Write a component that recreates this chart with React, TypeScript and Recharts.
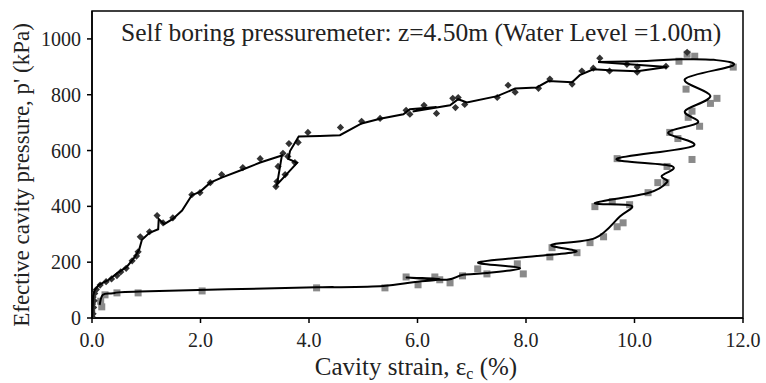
import React from 'react';
import { ScatterChart, Scatter, XAxis, YAxis, ReferenceArea } from 'recharts';

const FONT = "'Liberation Serif', 'Times New Roman', Times, 'DejaVu Serif', serif";

const xTicks = [0, 2, 4, 6, 8, 10, 12];
const yTicks = [0, 200, 400, 600, 800, 1000];

const titleText = 'Self boring pressuremeter: z=4.50m (Water Level =1.00m)';
const yLabelText = "Efective cavity pressure, p' (kPa)";

// loading stage: measured points (diamonds)
const loadingPoints = [
  { x: 0.0, y: 5 }, { x: 0.02, y: 15 }, { x: 0.0, y: 25 }, { x: 0.03, y: 38 }, { x: 0.01, y: 50 },
  { x: 0.04, y: 62 }, { x: 0.02, y: 75 }, { x: 0.05, y: 88 }, { x: 0.08, y: 102 }, { x: 0.15, y: 118 },
  { x: 0.26, y: 130 }, { x: 0.36, y: 140 }, { x: 0.46, y: 152 }, { x: 0.53, y: 165 }, { x: 0.63, y: 178 },
  { x: 0.74, y: 205 }, { x: 0.82, y: 222 }, { x: 0.85, y: 237 }, { x: 0.89, y: 291 }, { x: 1.06, y: 309 },
  { x: 1.2, y: 367 }, { x: 1.31, y: 341 }, { x: 1.49, y: 359 }, { x: 1.84, y: 442 }, { x: 1.99, y: 449 },
  { x: 2.18, y: 485 }, { x: 2.39, y: 514 }, { x: 2.78, y: 539 }, { x: 3.1, y: 571 }, { x: 3.52, y: 590 },
  { x: 3.61, y: 579 }, { x: 3.43, y: 543 }, { x: 3.56, y: 514 }, { x: 3.41, y: 489 }, { x: 3.39, y: 471 },
  { x: 3.74, y: 557 }, { x: 3.63, y: 625 }, { x: 3.8, y: 629 }, { x: 3.98, y: 665 }, { x: 4.58, y: 683 },
  { x: 4.97, y: 705 }, { x: 5.31, y: 715 }, { x: 5.79, y: 744 }, { x: 6.12, y: 762 }, { x: 6.35, y: 733 },
  { x: 5.86, y: 730 }, { x: 6.65, y: 787 }, { x: 6.75, y: 790 }, { x: 6.7, y: 754 }, { x: 6.87, y: 765 },
  { x: 7.47, y: 790 }, { x: 7.67, y: 834 }, { x: 7.8, y: 809 }, { x: 8.23, y: 823 }, { x: 8.44, y: 856 },
  { x: 8.85, y: 838 }, { x: 9.03, y: 885 }, { x: 9.24, y: 895 }, { x: 9.36, y: 931 }, { x: 9.54, y: 885 },
  { x: 9.86, y: 909 }, { x: 10.05, y: 881 }, { x: 10.05, y: 899 }, { x: 10.58, y: 902 }, { x: 10.97, y: 952 },
];

// loading stage: fitted line
const loadingLine = [
  { x: 0.0, y: 0 }, { x: 0.01, y: 40 }, { x: 0.02, y: 80 }, { x: 0.05, y: 100 }, { x: 0.13, y: 119 },
  { x: 0.31, y: 137 }, { x: 0.46, y: 160 }, { x: 0.64, y: 183 }, { x: 0.78, y: 216 }, { x: 0.87, y: 245 },
  { x: 0.92, y: 280 }, { x: 1.06, y: 305 }, { x: 1.22, y: 318 }, { x: 1.23, y: 355 }, { x: 1.33, y: 336 },
  { x: 1.49, y: 355 }, { x: 1.66, y: 385 }, { x: 1.84, y: 440 }, { x: 1.99, y: 452 }, { x: 2.18, y: 485 },
  { x: 2.39, y: 503 }, { x: 2.78, y: 532 }, { x: 3.1, y: 557 }, { x: 3.5, y: 582 }, { x: 3.41, y: 478 },
  { x: 3.78, y: 556 }, { x: 3.62, y: 570 }, { x: 3.65, y: 598 }, { x: 3.81, y: 650 }, { x: 4.2, y: 652 },
  { x: 4.57, y: 655 }, { x: 4.97, y: 697 }, { x: 5.31, y: 714 }, { x: 5.74, y: 730 }, { x: 5.86, y: 748 },
  { x: 6.35, y: 756 }, { x: 5.91, y: 740 }, { x: 6.6, y: 762 }, { x: 6.75, y: 784 }, { x: 6.91, y: 772 },
  { x: 7.47, y: 795 }, { x: 7.8, y: 822 }, { x: 8.2, y: 826 }, { x: 8.41, y: 849 }, { x: 8.85, y: 845 },
  { x: 8.99, y: 870 }, { x: 9.24, y: 891 }, { x: 9.54, y: 888 }, { x: 10.05, y: 884 }, { x: 10.6, y: 899 },
  { x: 9.33, y: 917 },
];

// unloading stage: measured points (squares)
const unloadingPoints = [
  { x: 10.82, y: 920 }, { x: 10.97, y: 945 }, { x: 11.11, y: 938 }, { x: 11.82, y: 899 }, { x: 10.95, y: 820 },
  { x: 11.52, y: 787 }, { x: 11.4, y: 769 }, { x: 11.06, y: 741 }, { x: 10.99, y: 719 }, { x: 11.2, y: 687 },
  { x: 10.65, y: 665 }, { x: 10.8, y: 643 }, { x: 11.06, y: 568 }, { x: 9.68, y: 571 }, { x: 10.6, y: 543 },
  { x: 10.43, y: 485 }, { x: 10.58, y: 485 }, { x: 10.25, y: 449 }, { x: 9.59, y: 417 }, { x: 9.27, y: 399 },
  { x: 9.91, y: 406 }, { x: 9.79, y: 341 }, { x: 9.68, y: 327 }, { x: 9.43, y: 291 }, { x: 9.18, y: 270 },
  { x: 8.48, y: 252 }, { x: 8.94, y: 234 }, { x: 8.44, y: 219 }, { x: 7.95, y: 158 }, { x: 7.84, y: 194 },
  { x: 7.28, y: 158 }, { x: 7.11, y: 176 }, { x: 6.83, y: 151 }, { x: 6.6, y: 126 }, { x: 6.41, y: 137 },
  { x: 6.32, y: 147 }, { x: 6.01, y: 119 }, { x: 5.79, y: 147 }, { x: 5.4, y: 108 }, { x: 4.14, y: 108 },
  { x: 2.03, y: 97 }, { x: 0.85, y: 90 }, { x: 0.46, y: 90 }, { x: 0.24, y: 83 }, { x: 0.16, y: 60 },
  { x: 0.18, y: 40 },
];

// unloading stage: smoothed line
const unloadingLine = [
  { x: 9.33, y: 917 }, { x: 10.23, y: 921 }, { x: 10.84, y: 927 }, { x: 11.46, y: 925 }, { x: 11.82, y: 905 },
  { x: 10.93, y: 856 }, { x: 11.4, y: 795 }, { x: 10.93, y: 741 }, { x: 11.17, y: 700 }, { x: 10.62, y: 664 },
  { x: 11.08, y: 616 }, { x: 9.67, y: 570 }, { x: 10.69, y: 544 }, { x: 10.5, y: 508 }, { x: 10.6, y: 487 },
  { x: 10.25, y: 448 }, { x: 9.27, y: 412 }, { x: 9.94, y: 403 }, { x: 9.73, y: 364 }, { x: 9.27, y: 286 },
  { x: 8.47, y: 262 }, { x: 8.93, y: 238 }, { x: 8.26, y: 223 }, { x: 7.12, y: 199 }, { x: 7.89, y: 179 },
  { x: 7.27, y: 161 }, { x: 6.84, y: 155 }, { x: 6.54, y: 137 }, { x: 5.8, y: 145 }, { x: 6.41, y: 139 },
  { x: 5.92, y: 128 }, { x: 5.37, y: 115 }, { x: 4.45, y: 110 }, { x: 4.14, y: 110 }, { x: 0.88, y: 95 },
  { x: 0.39, y: 89 }, { x: 0.2, y: 83 }, { x: 0.14, y: 47 },
];

// Excel-like smoothing (Catmull-Rom) usable as a Recharts curve type
function smoothCurve(context: any) {
  let pts: number[][] = [];
  return {
    areaStart() {},
    areaEnd() {},
    lineStart() { pts = []; },
    point(x: number, y: number) { pts.push([x, y]); },
    lineEnd() {
      if (!pts.length) return;
      context.moveTo(pts[0][0], pts[0][1]);
      for (let i = 0; i < pts.length - 1; i++) {
        const p0 = pts[i - 1] || pts[i];
        const p1 = pts[i];
        const p2 = pts[i + 1];
        const p3 = pts[i + 2] || p2;
        context.bezierCurveTo(
          p1[0] + (p2[0] - p0[0]) / 6, p1[1] + (p2[1] - p0[1]) / 6,
          p2[0] - (p3[0] - p1[0]) / 6, p2[1] - (p3[1] - p1[1]) / 6,
          p2[0], p2[1],
        );
      }
    },
  };
}

const Diamond = (props: any) => {
  const { cx, cy } = props;
  return <path d={`M${cx},${cy - 3.6}L${cx + 3.6},${cy}L${cx},${cy + 3.6}L${cx - 3.6},${cy}Z`} fill="#333" />;
};

const Square = (props: any) => {
  const { cx, cy } = props;
  return <rect x={cx - 3.5} y={cy - 3.5} width={7} height={7} fill="#8a8a8a" />;
};

const NoDot = () => <g />;

const XLabel = () => (
  <text x={416} y={375} textAnchor="middle" fontSize={25} fontFamily={FONT} fill="#222">
    <tspan>Cavity strain, ε</tspan>
    <tspan fontSize={16} dy={4}>c</tspan>
    <tspan dy={-4}> (%)</tspan>
  </text>
);

const YLabel = () => (
  <text transform="translate(29,175) rotate(-90)" textAnchor="middle" fontSize={23} fontFamily={FONT} fill="#222">
    {yLabelText}
  </text>
);

export default function App() {
  return (
    <div style={{ position: 'absolute', left: 0, top: 0, width: 766, height: 383, background: '#fff' }}>
      <ScatterChart width={766} height={383} margin={{ top: 11, right: 23, bottom: 35, left: 40 }}>
        <XAxis
          type="number"
          dataKey="x"
          domain={[0, 12]}
          ticks={xTicks}
          interval={0}
          allowDataOverflow
          height={30}
          tickSize={5}
          tickMargin={10}
          tickFormatter={(v: number) => v.toFixed(1)}
          axisLine={{ stroke: '#000', strokeWidth: 1.5 }}
          tickLine={{ stroke: '#000', strokeWidth: 1.5 }}
          tick={{ fill: '#222', fontSize: 20, fontFamily: FONT }}
          label={{ content: XLabel }}
        />
        <YAxis
          type="number"
          dataKey="y"
          domain={[0, 1100]}
          ticks={yTicks}
          interval={0}
          allowDataOverflow
          width={52}
          tickSize={5}
          tickMargin={6}
          axisLine={{ stroke: '#000', strokeWidth: 1.5 }}
          tickLine={{ stroke: '#000', strokeWidth: 1.5 }}
          tick={{ fill: '#222', fontSize: 20, fontFamily: FONT }}
          label={{ content: YLabel }}
        />
        <ReferenceArea
          x1={0}
          x2={12}
          y1={0}
          y2={1100}
          fill="none"
          fillOpacity={0}
          stroke="#000"
          strokeWidth={1.5}
        />
        <Scatter data={unloadingPoints} shape={Square} isAnimationActive={false} />
        <Scatter data={loadingPoints} shape={Diamond} isAnimationActive={false} />
        <Scatter
          data={loadingLine}
          shape={NoDot}
          line={{ stroke: '#000', strokeWidth: 2 }}
          lineJointType="linear"
          isAnimationActive={false}
        />
        <Scatter
          data={unloadingLine}
          shape={NoDot}
          line={{ stroke: '#000', strokeWidth: 2 }}
          lineJointType={smoothCurve as any}
          isAnimationActive={false}
        />
      </ScatterChart>
      <div
        style={{
          position: 'absolute',
          left: 121,
          top: 20,
          fontFamily: FONT,
          fontSize: 25.5,
          lineHeight: '25px',
          color: '#222',
          whiteSpace: 'nowrap',
        }}
      >
        {titleText}
      </div>
    </div>
  );
}
